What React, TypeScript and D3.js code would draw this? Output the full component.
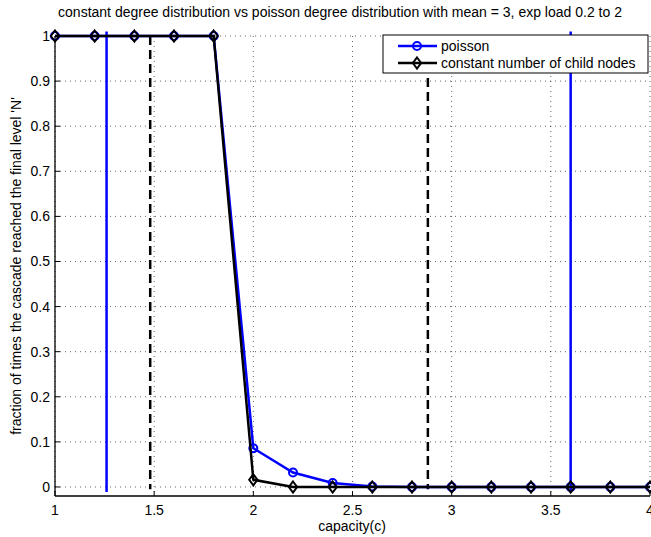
import React from "react";
import * as d3 from "d3";

const xs = [1, 1.2, 1.4, 1.6, 1.8, 2, 2.2, 2.4, 2.6, 2.8, 3, 3.2, 3.4, 3.6, 3.8, 4];
const poisson = [1, 1, 1, 1, 1, 0.086, 0.032, 0.009, 0.001, 0, 0, 0, 0, 0, 0, 0];
const constant = [1, 1, 1, 1, 1, 0.016, 0, 0, 0, 0, 0, 0, 0, 0, 0, 0];
const blueLines = [1.26, 3.6];
const dashedLines = [1.48, 2.88];
const xTicks = [1, 1.5, 2, 2.5, 3, 3.5, 4];
const yTicks = [0, 0.1, 0.2, 0.3, 0.4, 0.5, 0.6, 0.7, 0.8, 0.9, 1];
const titleText = "constant degree distribution vs poisson degree distribution with mean = 3, exp load 0.2 to 2";
const xLabel = "capacity(c)";
const yLabel = "fraction of times the cascade reached the final level 'N'";
const legendLabels = ["poisson", "constant number of child nodes"];

export default function App() {
  const W = 651, H = 537;
  const left = 55, right = 650, top = 36, bottom = 496;
  const x = d3.scaleLinear().domain([1, 4]).range([left, right]);
  const y = d3.scaleLinear().domain([-0.02, 1]).range([bottom, top]);
  const line = d3.line<number>().x((_, i) => x(xs[i])).y((d) => y(d));
  const font = "Liberation Sans, Arial, sans-serif";
  const fs = 14;
  const diamond = (cx: number, cy: number, r: number) =>
    `M${cx},${cy - r}L${cx + r * 0.75},${cy}L${cx},${cy + r}L${cx - r * 0.75},${cy}Z`;
  const grid = "#000";

  return (
    <svg width={W} height={H} style={{ position: "absolute", left: 0, top: 0, background: "#fff" }} fontFamily={font}>
      <rect x={0} y={0} width={W} height={H} fill="#fff" />
      {/* grid */}
      {yTicks.map((t) => (
        <line key={"gy" + t} x1={left} x2={right} y1={y(t)} y2={y(t)} stroke={grid} strokeWidth={1} strokeDasharray="1,4" opacity={0.6} />
      ))}
      {xTicks.map((t) => (
        <line key={"gx" + t} x1={x(t)} x2={x(t)} y1={top} y2={bottom} stroke={grid} strokeWidth={1} strokeDasharray="1,4" opacity={0.6} />
      ))}
      {/* axes */}
      <line x1={left} x2={left} y1={top} y2={bottom} stroke="#000" strokeWidth={1.3} />
      <line x1={left} x2={right} y1={bottom} y2={bottom} stroke="#000" strokeWidth={1.3} />
      {yTicks.map((t) => (
        <g key={"ty" + t}>
          <line x1={left} x2={left + 5} y1={y(t)} y2={y(t)} stroke="#000" />
          <text x={left - 5} y={y(t) + 5} textAnchor="end" fontSize={fs}>{String(t)}</text>
        </g>
      ))}
      {xTicks.map((t) => (
        <g key={"tx" + t}>
          <line x1={x(t)} x2={x(t)} y1={bottom} y2={bottom - 5} stroke="#000" />
          <text x={x(t)} y={bottom + 19} textAnchor="middle" fontSize={fs}>{String(t)}</text>
        </g>
      ))}
      {/* vertical reference lines */}
      {blueLines.map((v) => (
        <line key={"b" + v} x1={x(v)} x2={x(v)} y1={y(1.01)} y2={y(-0.011)} stroke="#0000ff" strokeWidth={2.5} />
      ))}
      {dashedLines.map((v) => (
        <line key={"d" + v} x1={x(v)} x2={x(v)} y1={y(1.0)} y2={y(-0.005)} stroke="#000" strokeWidth={2.5} strokeDasharray="9,5" />
      ))}
      {/* data */}
      <path d={line(poisson) || ""} fill="none" stroke="#0000ff" strokeWidth={2.5} />
      {poisson.map((v, i) => (
        <circle key={"pc" + i} cx={x(xs[i])} cy={y(v)} r={4} fill="none" stroke="#0000ff" strokeWidth={2} />
      ))}
      <path d={line(constant) || ""} fill="none" stroke="#000" strokeWidth={2.5} />
      {constant.map((v, i) => (
        <path key={"cd" + i} d={diamond(x(xs[i]), y(v), 5.5)} fill="none" stroke="#000" strokeWidth={2} />
      ))}
      {/* legend */}
      <g>
        <rect x={383} y={35} width={265} height={38} fill="#fff" stroke="#000" strokeWidth={1} />
        <line x1={398} x2={437} y1={46} y2={46} stroke="#0000ff" strokeWidth={2.5} />
        <circle cx={417} cy={46} r={4} fill="none" stroke="#0000ff" strokeWidth={2} />
        <text x={441} y={51} fontSize={fs}>{legendLabels[0]}</text>
        <line x1={398} x2={437} y1={63} y2={63} stroke="#000" strokeWidth={2.5} />
        <path d={diamond(417, 63, 5.5)} fill="none" stroke="#000" strokeWidth={2} />
        <text x={441} y={68} fontSize={fs}>{legendLabels[1]}</text>
      </g>
      {/* labels */}
      <text x={340} y={17} textAnchor="middle" fontSize={fs}>{titleText}</text>
      <text x={352} y={531} textAnchor="middle" fontSize={fs}>{xLabel}</text>
      <text transform={`translate(21,${(top + bottom) / 2}) rotate(-90)`} textAnchor="middle" fontSize={fs}>{yLabel}</text>
    </svg>
  );
}
